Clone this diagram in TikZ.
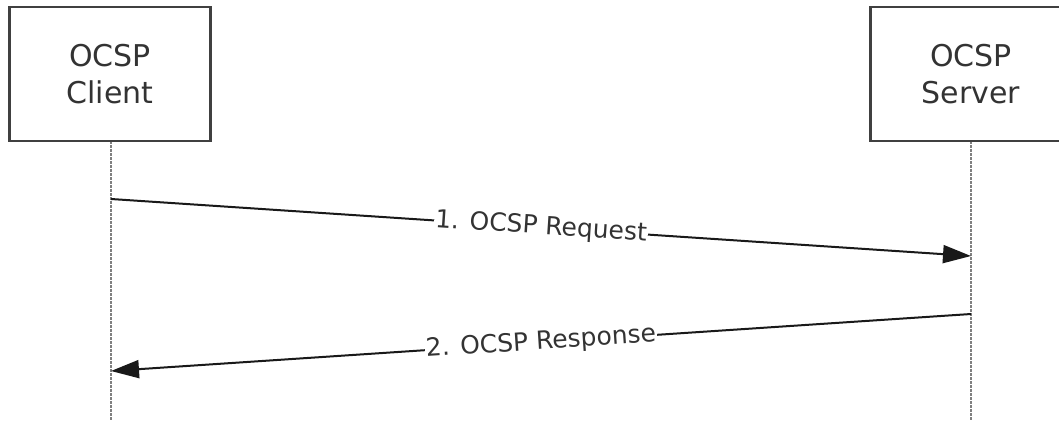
\documentclass[tikz,border=0pt]{standalone}
\usepackage{fontspec}
\setmainfont{DejaVu Sans}
\usetikzlibrary{arrows.meta}
\tikzset{
  party/.style={draw=black!75, line width=2.5pt, fill=white, minimum width=201pt, minimum height=134pt, align=center, font=\fontsize{30}{37}\selectfont, text=black!80},
  lifeline/.style={draw=black!50, line width=2.5pt, dash pattern=on 2.5pt off 1.5pt},
  msg/.style={draw=black!90, line width=2pt, -{Triangle[length=28pt,width=18pt]}},
  msglabel/.style={sloped, fill=white, inner sep=1pt, font=\fontsize{25}{30}\selectfont, text=black!80}
}
\begin{document}
\begin{tikzpicture}[x=1pt,y=-1pt]
		%%%%% START %%%%%
		\clip (0,0) rectangle (1059,420);
		
		\coordinate (clientend) at (111,420);
		\coordinate (serverend) at (971,420);
		\draw[lifeline] (111,141) -- (clientend);
		\draw[lifeline] (971,141) -- (serverend);
		
		\node[party] (client) at (110,74) {OCSP\\Client};
		\node[party] (server) at (971,74) {OCSP\\Server};
		
		\coordinate (reqfrom) at (111,199);
		\coordinate (reqto) at (971,256);
		\coordinate (respfrom) at (971,314);
		\coordinate (respto) at (111,371);
		
		\draw[msg] (reqfrom) -- node[msglabel] (reqlabel) {1. OCSP Request} (reqto);
		\draw[msg] (respfrom) -- node[msglabel] (resplabel) {2. OCSP Response} (respto);
		
		%%%%% END %%%%%
\end{tikzpicture}
\end{document}
